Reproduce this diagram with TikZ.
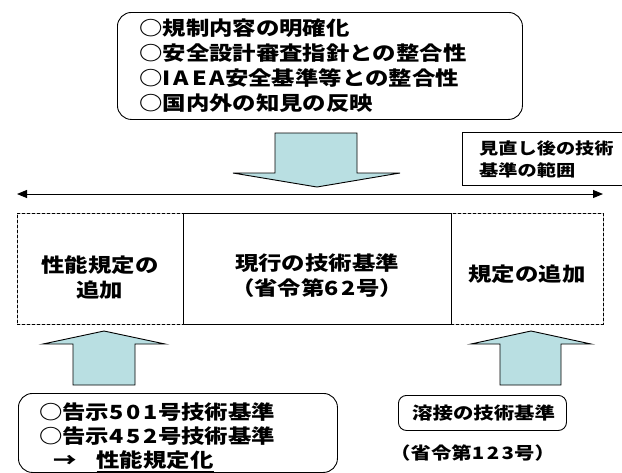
\documentclass[tikz,border=0pt]{standalone}
\usepackage{fontspec}
\usetikzlibrary{arrows.meta}
\newfontfamily\jp{Noto Sans CJK JP}[FakeStretch=1.2]
\newfontfamily\jpd{Noto Sans CJK JP}[FakeStretch=1.2, LetterSpace=15]
\newcommand\dg[1]{{\jpd #1}}
\definecolor{arrowfill}{RGB}{185,223,226}
\tikzset{
  rbox/.style={draw, line width=0.9pt, inner sep=0pt},
  plainbox/.style={draw, line width=0.9pt, inner sep=0pt},
  dbox/.style={draw=black, line width=0.8pt, dash pattern=on 3pt off 2pt,
    inner sep=0pt, preaction={draw=gray!50, line width=0.8pt, solid}},
  blockarrow/.style={draw=black, line width=0.9pt, fill=arrowfill, line join=miter},
  jbig/.style={font=\jp\bfseries\fontsize{19.5}{25}\selectfont, inner sep=0pt},
  jsmall/.style={font=\jp\bfseries\fontsize{16}{22}\selectfont, inner sep=0pt},
  jmid/.style={font=\jp\bfseries\fontsize{17}{22}\selectfont, inner sep=0pt},
  rangearrow/.style={line width=1pt, {Triangle[length=10pt,width=8pt]}-{Triangle[length=10pt,width=8pt]}}
}
\begin{document}
\begin{tikzpicture}[x=1pt,y=-1pt]
\useasboundingbox (0,0) rectangle (622,472);
% top box
\node[rbox, rounded corners=14pt, anchor=north west, minimum width=405pt, minimum height=107pt] (topbox) at (117,12) {};
\node[jbig, anchor=west, align=left] (toptext) at (139,66) {○規制内容の明確化\\○安全設計審査指針との整合性\\○\dg{IAEA}安全基準等との整合性\\○国内外の知見の反映};
% down arrow
\draw[blockarrow] (275,133) -- (357,133) -- (357,173) -- (400,173) -- (317,187) -- (233,173) -- (275,173) -- cycle;
% range label
\node[plainbox, anchor=north west, minimum width=170pt, minimum height=53pt] (rangebox) at (462,132) {};
\node[jsmall, anchor=west, align=left] (rangetext) at (479,159) {見直し後の技術\\基準の範囲};
% range arrow
\coordinate (rl) at (17,194);
\coordinate (rr) at (603,194);
\draw[rangearrow] (rl) -- (rr);
% boxes
\node[dbox, anchor=north west, minimum width=166pt, minimum height=111pt] (leftbox) at (17,213) {};
\node[dbox, anchor=north west, minimum width=152pt, minimum height=111pt] (rightbox) at (451,213) {};
\node[plainbox, anchor=north west, minimum width=268pt, minimum height=111pt] (curbox) at (183,213) {};
\node[jbig, align=center] (lefttext) at (100,278) {性能規定の\\追加};
\node[jbig, align=center] (curtext) at (317,276) {現行の技術基準\\（省令第\dg{62}号）};
\node[jbig, align=center] (righttext) at (527,274) {規定の追加};
% up arrows
\draw[blockarrow] (73,385) -- (73,344) -- (43,344) -- (104,331) -- (165,344) -- (135,344) -- (135,385) -- cycle;
\draw[blockarrow] (500,385) -- (500,344) -- (471,344) -- (531,331) -- (591,344) -- (561,344) -- (561,385) -- cycle;
% bottom left box
\node[rbox, rounded corners=14pt, anchor=north west, minimum width=319pt, minimum height=79pt] (kokuji) at (18,393) {};
\node[jbig, anchor=west, align=left, font=\jp\bfseries\fontsize{19.5}{24}\selectfont] (kokujitext) at (39,437) {○告示\dg{501}号技術基準\\○告示\dg{452}号技術基準\\\hspace*{14pt}→\hspace{20pt}\underline{性能規定化}};
% bottom right box
\node[rbox, rounded corners=8pt, anchor=north west, minimum width=168pt, minimum height=35pt] (yosetsu) at (398,395) {};
\node[jmid, anchor=west] (yosetsutext) at (412,413) {溶接の技術基準};
\node[jmid, anchor=west] (shorei) at (390,453) {（省令第\dg{123}号）};
\end{tikzpicture}
\end{document}
